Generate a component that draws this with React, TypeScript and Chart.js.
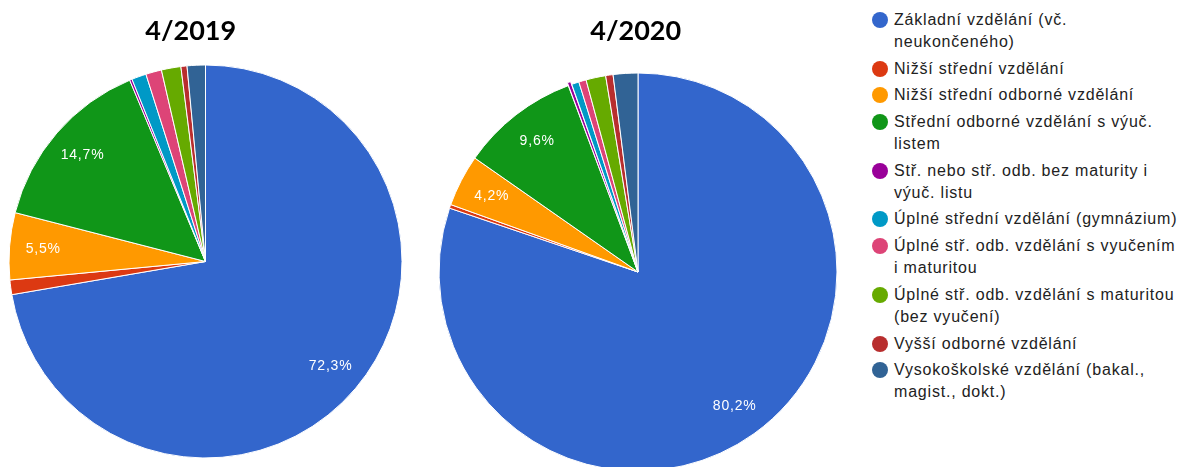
import React, { useEffect, useRef } from "react";
import { Chart, registerables } from "chart.js";

Chart.register(...registerables);

const categories = [
  "Základní vzdělání (vč. neukončeného)",
  "Nižší střední vzdělání",
  "Nižší střední odborné vzdělání",
  "Střední odborné vzdělání s výuč. listem",
  "Stř. nebo stř. odb. bez maturity i výuč. listu",
  "Úplné střední vzdělání (gymnázium)",
  "Úplné stř. odb. vzdělání s vyučením i maturitou",
  "Úplné stř. odb. vzdělání s maturitou (bez vyučení)",
  "Vyšší odborné vzdělání",
  "Vysokoškolské vzdělání (bakal., magist., dokt.)",
];

const colors = [
  "#3366cc",
  "#dc3912",
  "#ff9900",
  "#109618",
  "#990099",
  "#0099c6",
  "#dd4477",
  "#66aa00",
  "#b82e2e",
  "#316395",
];

const values2019 = [72.3, 1.2, 5.5, 14.7, 0.2, 1.2, 1.3, 1.6, 0.5, 1.5];
const values2020 = [80.2, 0.3, 4.2, 9.6, 0.3, 0.6, 0.6, 1.6, 0.6, 2.0];

const titles = ["4/2019", "4/2020"];

const labelPlugin = {
  id: "sliceLabels",
  afterDatasetsDraw(chart: any) {
    const ctx = chart.ctx as CanvasRenderingContext2D;
    const ds = chart.data.datasets[0];
    const meta = chart.getDatasetMeta(0);
    const data = ds.data as number[];
    const total = data.reduce((a, b) => a + b, 0);
    ctx.save();
    ctx.font = '14px "Liberation Sans", Arial, sans-serif';
    ctx.fillStyle = "#ffffff";
    ctx.textAlign = "center";
    ctx.textBaseline = "middle";
    (ctx as any).letterSpacing = "0.8px";
    meta.data.forEach((arc: any, i: number) => {
      const pct = (data[i] / total) * 100;
      if (pct < 4) return;
      const p = arc.getProps(["x", "y", "startAngle", "endAngle", "outerRadius"], true);
      const mid = (p.startAngle + p.endAngle) / 2;
      const r = p.outerRadius * 0.83;
      ctx.fillText(
        pct.toFixed(1).replace(".", ",") + "%",
        p.x + Math.cos(mid) * r + 0.4,
        p.y + Math.sin(mid) * r
      );
    });
    ctx.restore();
  },
};

type PieProps = {
  values: number[];
  left: number;
  width: number;
  height: number;
  padTop: number;
  radius: number;
  offsets: number[];
};

function Pie({ values, left, width, height, padTop, radius, offsets }: PieProps) {
  const ref = useRef<HTMLCanvasElement | null>(null);
  useEffect(() => {
    if (!ref.current) return;
    const chart = new Chart(ref.current, {
      type: "pie",
      data: {
        labels: categories,
        datasets: [
          {
            data: values,
            backgroundColor: colors,
            borderColor: "#ffffff",
            borderWidth: 1,
            offset: offsets,
          },
        ],
      },
      options: {
        responsive: false,
        animation: false,
        radius: radius,
        layout: { padding: { top: padTop, left: 0, right: 0, bottom: 0 } },
        plugins: {
          legend: { display: false },
          tooltip: { enabled: false },
          title: { display: false },
        },
      } as any,
      plugins: [labelPlugin],
    });
    return () => chart.destroy();
  }, []);
  return (
    <canvas
      ref={ref}
      width={width}
      height={height}
      style={{ position: "absolute", left, top: 0, width, height }}
    />
  );
}

export default function App() {
  useEffect(() => {
    document.body.style.margin = "0";
    document.body.style.overflow = "hidden";
  }, []);
  const titleStyle = (cx: number): React.CSSProperties => ({
    position: "absolute",
    left: cx - 100,
    top: 15,
    width: 200,
    textAlign: "center",
    font: 'bold 27px Lato, "Open Sans", sans-serif',
    lineHeight: "30px",
    color: "#000",
  });
  return (
    <div
      style={{
        position: "absolute",
        left: 0,
        top: 0,
        width: 1184,
        height: 467,
        overflow: "hidden",
        background: "#fff",
      }}
    >
      <Pie
        values={values2019}
        left={0}
        width={411}
        height={467}
        padTop={56}
        radius={196.5}
        offsets={[0, 0, 0, 0, 0, 0, 0, 0, 0, 0]}
      />
      <Pie
        values={values2020}
        left={438}
        width={400}
        height={467}
        padTop={77}
        radius={199}
        offsets={[0, 0, 0, 0, 6, 0, 0, 0, 0, 0]}
      />
      <div style={titleStyle(190.7)}>{titles[0]}</div>
      <div style={titleStyle(635.7)}>{titles[1]}</div>
      <div style={{ position: "absolute", left: 872, top: 9, width: 312 }}>
        {categories.map((c, i) => (
          <div
            key={i}
            style={{ display: "flex", alignItems: "flex-start", marginBottom: 4.7 }}
          >
            <div
              style={{
                width: 16,
                height: 16,
                borderRadius: "50%",
                background: colors[i],
                marginTop: 3,
                marginRight: 6,
                flex: "0 0 auto",
              }}
            />
            <div
              style={{
                width: 292,
                font: '16px "Liberation Sans", Arial, sans-serif',
                letterSpacing: "0.8px",
                lineHeight: "22px",
                color: "#222",
              }}
            >
              {c}
            </div>
          </div>
        ))}
      </div>
    </div>
  );
}
